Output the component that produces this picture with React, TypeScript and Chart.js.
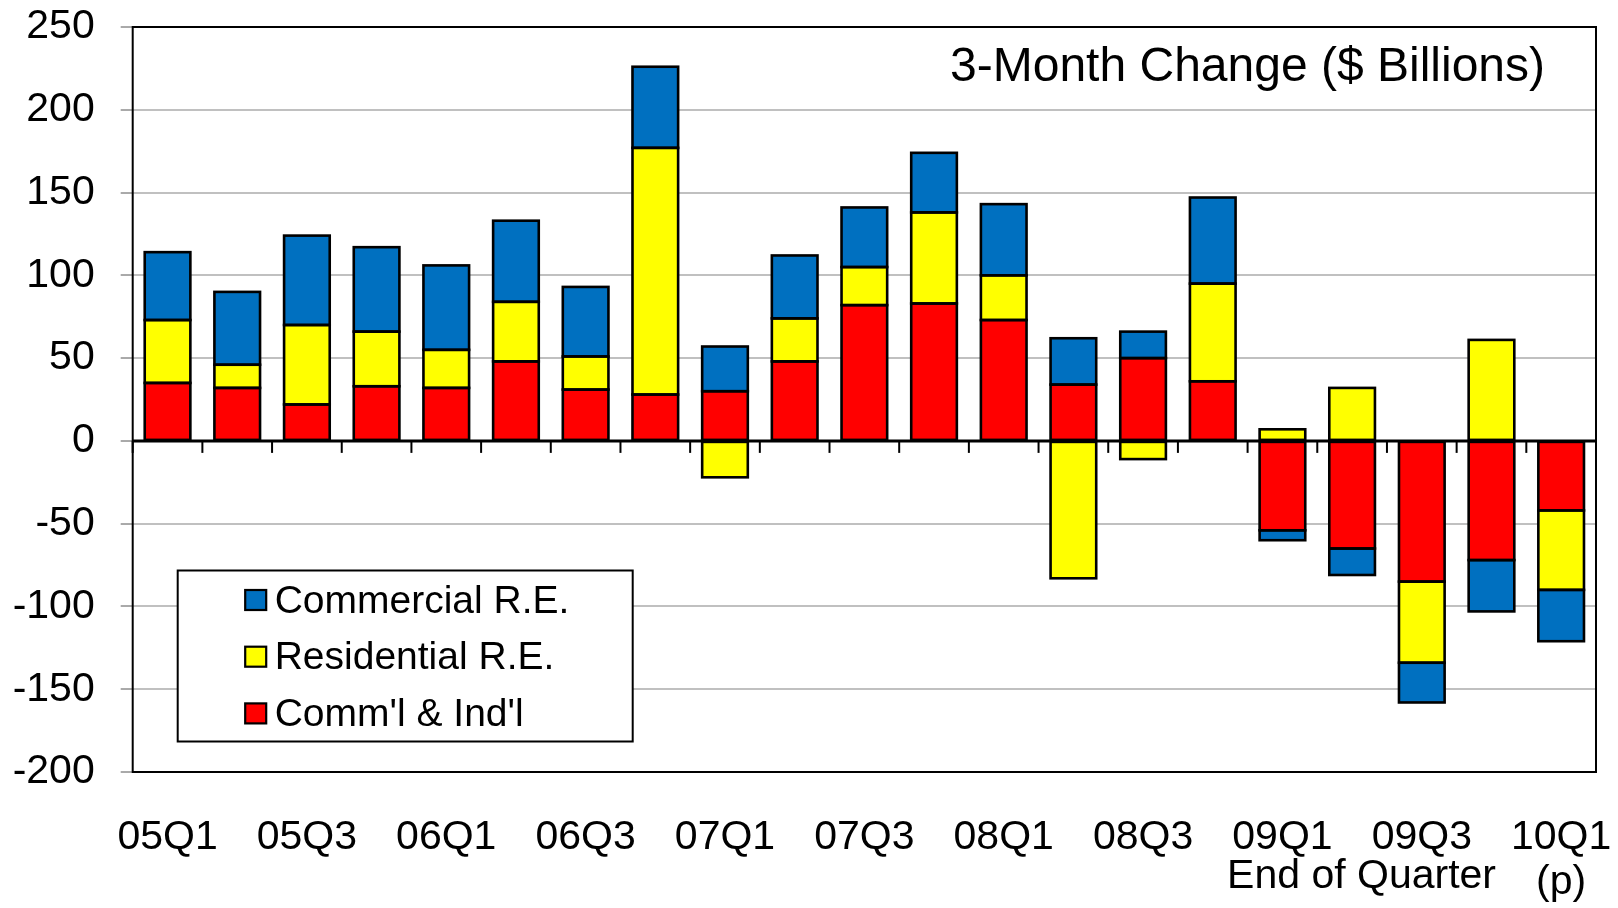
import React, { useEffect, useRef } from 'react';
import { Chart, registerables } from 'chart.js';

Chart.register(...registerables);

// ---------- data ----------
const quarters = [
  '05Q1', '05Q2', '05Q3', '05Q4', '06Q1', '06Q2', '06Q3', '06Q4',
  '07Q1', '07Q2', '07Q3', '07Q4', '08Q1', '08Q2', '08Q3', '08Q4',
  '09Q1', '09Q2', '09Q3', '09Q4', '10Q1',
];
const labeledQuarters = ['05Q1', '05Q3', '06Q1', '06Q3', '07Q1', '07Q3', '08Q1', '08Q3', '09Q1', '09Q3', '10Q1'];
const preliminaryQuarter = '10Q1';
const preliminaryNote = '(p)';

const commIndl = [35, 32, 22, 33, 32, 48, 31, 28, 30, 48, 82, 83, 73, 34, 50, 36, -54, -65, -85, -72, -42];
const residentialRE = [38, 14, 48, 33, 23, 36, 20, 149, -22, 26, 23, 55, 27, -83, -11, 59, 7, 32, -49, 61, -48];
const commercialRE = [41, 44, 54, 51, 51, 49, 42, 49, 27, 38, 36, 36, 43, 28, 16, 52, -6, -16, -24, -31, -31];

const seriesNames = ["Comm'l & Ind'l", 'Residential R.E.', 'Commercial R.E.'];
const seriesColors = ['#FF0000', '#FFFF00', '#0070C0'];

const yMin = -200;
const yMax = 250;
const yStep = 50;

const chartTitle = '3-Month Change ($ Billions)';
const xAxisTitle = 'End of Quarter';

const FONT = '"Liberation Sans", Arial, Helvetica, sans-serif';

const overlayPlugin = {
  id: 'overlay',
  afterDatasetsDraw(chart: any) {
    const { ctx, chartArea: a, scales } = chart;
    const xs = scales.x;
    const ys = scales.y;
    const y0 = ys.getPixelForValue(0);
    const n = chart.data.labels.length;
    const step = xs.getPixelForValue(1) - xs.getPixelForValue(0);
    ctx.save();

    // bar outlines (centered on segment edges, like the original)
    ctx.strokeStyle = '#000';
    ctx.lineWidth = 2.6;
    ctx.lineJoin = 'miter';
    chart.data.datasets.forEach((_d: any, di: number) => {
      const meta = chart.getDatasetMeta(di);
      meta.data.forEach((el: any) => {
        const p = el.getProps(['x', 'y', 'base', 'width'], true);
        const top = Math.min(p.y, p.base);
        const h = Math.abs(p.y - p.base);
        ctx.strokeRect(p.x - p.width / 2, top, p.width, h);
      });
    });

    // zero line
    ctx.lineWidth = 3;
    ctx.beginPath();
    ctx.moveTo(a.left, y0);
    ctx.lineTo(a.right, y0);
    ctx.stroke();

    // category tick marks on the zero line
    ctx.lineWidth = 2;
    for (let i = 0; i <= n; i++) {
      const px = xs.getPixelForValue(Math.min(i, n - 1)) + (i < n ? -step / 2 : step / 2);
      ctx.beginPath();
      ctx.moveTo(px, y0);
      ctx.lineTo(px, y0 + 12);
      ctx.stroke();
    }

    // plot frame
    ctx.lineWidth = 2;
    ctx.strokeRect(a.left, a.top, a.right - a.left, a.bottom - a.top);

    // title inside plot
    ctx.fillStyle = '#000';
    ctx.font = `48px ${FONT}`;
    ctx.textAlign = 'right';
    ctx.textBaseline = 'alphabetic';
    ctx.fillText(chartTitle, a.right - 51, a.top + 54);

    // legend box
    const lx = a.left + 45;
    const lr = a.left + 500;
    const lt = a.bottom - 201.5;
    const lb = a.bottom - 30.5;
    ctx.fillStyle = '#fff';
    ctx.fillRect(lx, lt, lr - lx, lb - lt);
    ctx.strokeStyle = '#000';
    ctx.lineWidth = 2;
    ctx.strokeRect(lx, lt, lr - lx, lb - lt);
    const ds = chart.data.datasets.slice().reverse();
    ctx.font = `39px ${FONT}`;
    ctx.textAlign = 'left';
    ds.forEach((d: any, i: number) => {
      const cy = lt + 29.5 + i * 56.7;
      ctx.fillStyle = d.backgroundColor;
      ctx.fillRect(lx + 67.5, cy - 10, 21, 20);
      ctx.strokeStyle = '#000';
      ctx.lineWidth = 2.2;
      ctx.strokeRect(lx + 67.5, cy - 10, 21, 20);
      ctx.fillStyle = '#000';
      ctx.fillText(d.label, lx + 97, cy + 12.7);
    });

    // x axis title
    ctx.font = `41px ${FONT}`;
    ctx.textAlign = 'right';
    ctx.fillText(xAxisTitle, a.right - 100, a.bottom + 116);

    ctx.restore();
  },
};

const zeroPadding = (scale: any) => {
  scale.paddingTop = 0;
  scale.paddingBottom = 0;
  scale.paddingLeft = 0;
  scale.paddingRight = 0;
};

export default function App() {
  const canvasRef = useRef<HTMLCanvasElement | null>(null);

  useEffect(() => {
    document.body.style.margin = '0';
    const canvas = canvasRef.current;
    if (!canvas) return;
    const values = [commIndl, residentialRE, commercialRE];
    const chart = new Chart(canvas, {
      type: 'bar',
      data: {
        labels: quarters,
        datasets: values.map((v, i) => ({
          label: seriesNames[i],
          data: v,
          backgroundColor: seriesColors[i],
          borderColor: '#000',
          borderWidth: 0,
          inflateAmount: 0,
          barPercentage: 0.655,
          categoryPercentage: 1.0,
        })),
      },
      options: {
        responsive: false,
        animation: false,
        layout: { padding: { left: 0, right: 22, top: 27, bottom: 0 } },
        plugins: {
          legend: { display: false },
          tooltip: { enabled: false },
          title: { display: false },
        },
        scales: {
          x: {
            stacked: true,
            grid: { display: false },
            border: { display: false },
            afterFit: (scale: any) => {
              scale.height = 136;
              zeroPadding(scale);
            },
            ticks: {
              autoSkip: false,
              maxRotation: 0,
              minRotation: 0,
              padding: 35.5,
              color: '#000',
              font: { family: FONT, size: 41, lineHeight: 1.1 },
              callback: (_v: any, i: number) => {
                const q = quarters[i];
                if (!labeledQuarters.includes(q)) return '';
                return q === preliminaryQuarter ? [q, preliminaryNote] : q;
              },
            },
          },
          y: {
            stacked: true,
            min: yMin,
            max: yMax,
            border: { display: false },
            afterFit: (scale: any) => {
              scale.width = 132.7;
              zeroPadding(scale);
            },
            grid: {
              color: (c: any) => (c.tick && c.tick.value === 0 ? 'rgba(0,0,0,0)' : '#c0c0c0'),
              lineWidth: 2,
              drawTicks: true,
              tickLength: 12,
              tickColor: '#555',
              tickWidth: 1,
            },
            ticks: {
              stepSize: yStep,
              padding: 26,
              color: '#000',
              font: { family: FONT, size: 41 },
            },
          },
        },
      },
      plugins: [overlayPlugin],
    });
    return () => chart.destroy();
  }, []);

  return (
    <div style={{ width: 1618, height: 908, background: '#fff' }}>
      <canvas ref={canvasRef} width={1618} height={908} style={{ display: 'block', width: 1618, height: 908 }} />
    </div>
  );
}
